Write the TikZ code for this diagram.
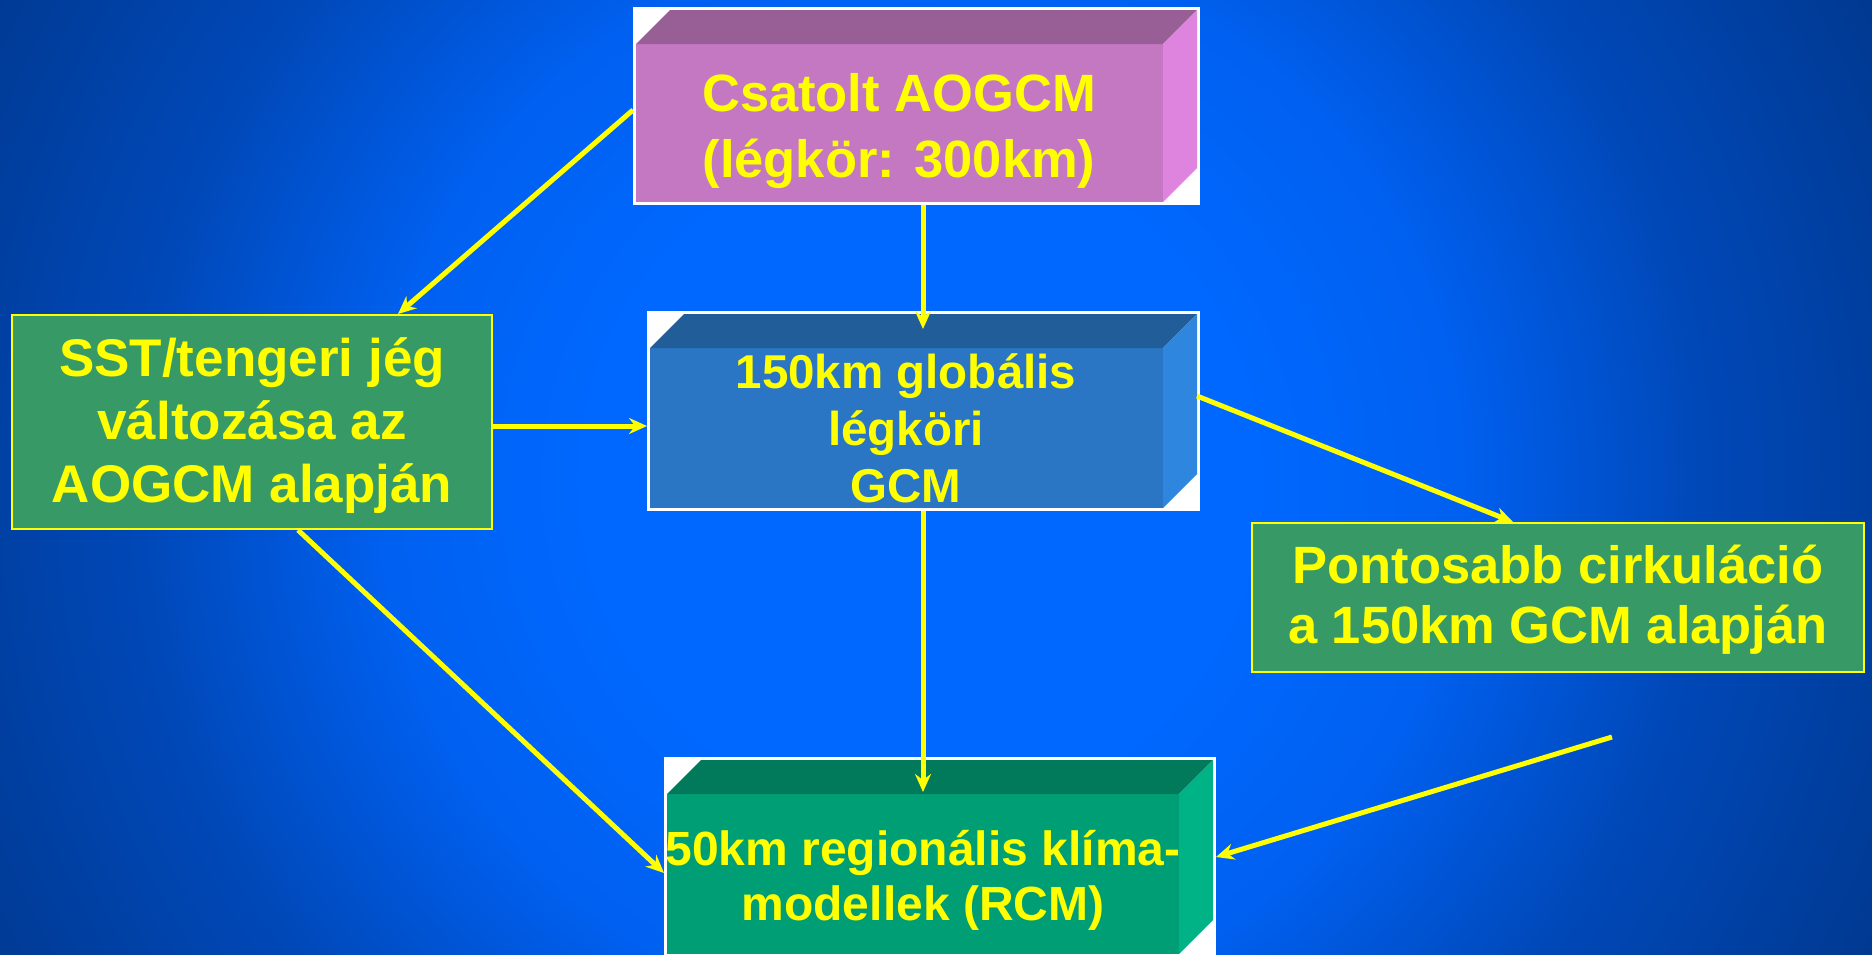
\documentclass[tikz,border=0pt]{standalone}
\usepackage{fontspec}
\setmainfont{Liberation Sans}
\usetikzlibrary{arrows.meta,calc}

\definecolor{ylw}{RGB}{255,255,0}
\definecolor{bgA}{RGB}{0,104,255}
\definecolor{bgA2}{RGB}{0,96,240}
\definecolor{bgB}{RGB}{0,72,184}
\definecolor{bgC}{RGB}{0,48,122}
\definecolor{magF}{RGB}{196,120,194}
\definecolor{magT}{RGB}{152,94,150}
\definecolor{magS}{RGB}{222,132,222}
\definecolor{bluF}{RGB}{42,118,196}
\definecolor{bluT}{RGB}{33,93,152}
\definecolor{bluS}{RGB}{46,134,222}
\definecolor{grnF}{RGB}{0,158,116}
\definecolor{grnT}{RGB}{0,122,90}
\definecolor{grnS}{RGB}{0,179,134}
\definecolor{boxG}{RGB}{54,153,102}

\pgfdeclareradialshading{bgshade}{\pgfpoint{0bp}{0bp}}{color(0bp)=(bgA); color(5.5bp)=(bgA); color(9bp)=(bgA2); color(13bp)=(bgB); color(20.5bp)=(bgC); color(50bp)=(bgC)}

\newcommand\cubefaces[4]{%
  \fill[#2] ($(#1.north west)+(3,37)$) rectangle ($(#1.south east)+(-37,-3)$);
  \fill[#3] ($(#1.north west)+(3,37)$) -- ($(#1.north west)+(37,3)$) -- ($(#1.north east)+(-3,3)$) -- ($(#1.north east)+(-37,37)$) -- cycle;
  \fill[#4] ($(#1.north east)+(-37,37)$) -- ($(#1.north east)+(-3,3)$) -- ($(#1.south east)+(-3,-37)$) -- ($(#1.south east)+(-37,-3)$) -- cycle;
}

\begin{document}
\begin{tikzpicture}[x=1pt,y=-1pt,
  frame/.style={rectangle, draw=white, fill=white, line width=2pt, inner sep=0pt},
  flat/.style={rectangle, draw=ylw, fill=boxG, line width=2pt, inner sep=0pt, text=ylw, font=\bfseries, align=center},
  label/.style={text=ylw, font=\bfseries, align=center, inner sep=0pt},
  arr/.style={draw=ylw, line width=5pt, -{Stealth[length=18pt,width=16pt,inset=6pt]}}]

\useasboundingbox (0,0) rectangle (1872,954);
\begin{scope}
\clip (0,0) rectangle (1872,954);
\fill[bgC] (0,0) rectangle (1872,954);
\shade[shading=bgshade] (920,480) circle (1500);
\end{scope}

% 3D boxes
\node[frame, minimum width=565pt, minimum height=196pt] (top) at (916.5,106) {};
\cubefaces{top}{magF}{magT}{magS}
\node[label, font=\bfseries\fontsize{52.5}{66}\selectfont] (topT) at (899,131) {Csatolt AOGCM\\(légkör: 300km)};

\node[frame, minimum width=551pt, minimum height=198pt] (mid) at (923.5,411) {};
\cubefaces{mid}{bluF}{bluT}{bluS}
\node[label, font=\bfseries\fontsize{47.5}{57}\selectfont] (midT) at (906,428) {150km globális\\légköri\\GCM};

\node[frame, minimum width=550pt, minimum height=198pt] (bot) at (940,857) {};
\cubefaces{bot}{grnF}{grnT}{grnS}
\node[label, font=\bfseries\fontsize{48}{55}\selectfont] (botT) at (923,880) {50km regionális klíma-\\modellek (RCM)};

% flat boxes
\node[flat, minimum width=480pt, minimum height=214pt] (sst) at (252,422) {};
\node[label, font=\bfseries\fontsize{53}{63}\selectfont] (sstT) at (252,426) {SST/tengeri jég\\változása az\\AOGCM alapján};
\node[flat, minimum width=612pt, minimum height=149pt] (pont) at (1558,597.5) {};
\node[label, font=\bfseries\fontsize{52.5}{60}\selectfont] (pontT) at (1558,600) {Pontosabb cirkuláció\\a 150km GCM alapján};

% connectors
\coordinate (colx) at (923,0);
\coordinate (free) at (1612,737);
\draw[arr] ($(top.west)+(0,4)$) -- ($(sst.north)+(146,0)$);
\draw[arr] (top.south -| colx) -- ($(mid.north -| colx)+(0,18)$);
\draw[arr] ($(sst.east)+(0,4)$) -- ($(sst.east -| mid.west)+(0,4)$);
\draw[arr] ($(mid.east)+(-3,-15)$) -- ($(pont.north)+(-45,0)$);
\draw[arr] (mid.south -| colx) -- ($(bot.north -| colx)+(0,35)$);
\draw[arr] ($(sst.south)+(46,0)$) -- ($(bot.west)+(0,16)$);
\draw[arr] (free) -- (bot.east);
\end{tikzpicture}
\end{document}
